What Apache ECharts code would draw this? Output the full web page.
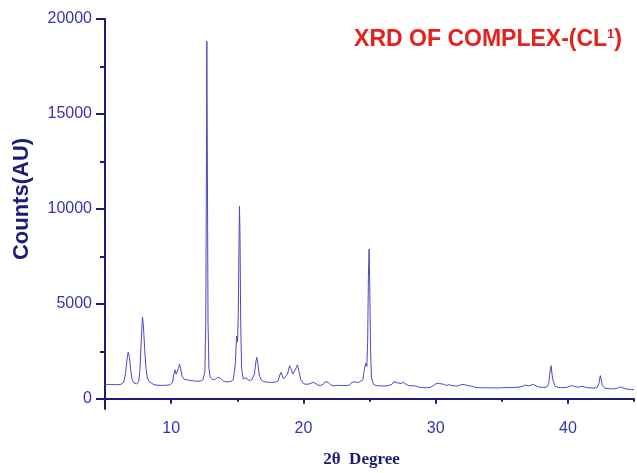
<!DOCTYPE html>
<html>
<head>
<meta charset="utf-8">
<script src="https://cdn.jsdelivr.net/npm/echarts@6/dist/echarts.min.js"></script>
<style>
  html, body { margin: 0; padding: 0; background: #fff; }
  #chart { width: 637px; height: 473px; }
</style>
</head>
<body>
<div id="chart"></div>
<script>
// 2θ (degree) 与计数
const twoTheta = [
  5.0, 5.2, 5.4, 5.6, 5.8, 6.0, 6.2, 6.4, 6.55, 6.65, 6.75, 6.85, 6.95, 7.05, 7.2, 7.4,
  7.55, 7.65, 7.75, 7.83, 7.9, 8.0, 8.1, 8.2, 8.35, 8.5, 8.7, 9.0, 9.3, 9.6, 9.9,
  10.1, 10.2, 10.28, 10.38, 10.48, 10.56, 10.63, 10.72, 10.82, 11.0, 11.2, 11.4, 11.6, 11.8,
  12.0, 12.2, 12.4, 12.55, 12.62, 12.67, 12.70, 12.74, 12.79, 12.86, 12.95, 13.1, 13.3,
  13.5, 13.6, 13.7, 13.9, 14.1, 14.3, 14.5, 14.7, 14.85, 14.95, 15.02, 15.08, 15.13, 15.17,
  15.21, 15.26, 15.33, 15.45, 15.55, 15.65, 15.75, 15.9, 16.1, 16.3, 16.42, 16.48, 16.55,
  16.65, 16.8, 17.0, 17.3, 17.6, 17.9, 18.1, 18.22, 18.3, 18.38, 18.5, 18.65, 18.8, 18.95,
  19.05, 19.2, 19.35, 19.48, 19.55, 19.65, 19.8, 20.0, 20.2, 20.45, 20.6, 20.76, 20.9,
  21.1, 21.3, 21.5, 21.65, 21.77, 21.9, 22.1, 22.3, 22.5, 22.65, 22.8, 23.0, 23.15, 23.3,
  23.5, 23.7, 23.84, 23.95, 24.05, 24.16, 24.3, 24.5, 24.62, 24.72, 24.8, 24.86, 24.92,
  24.97, 25.02, 25.08, 25.15, 25.3, 25.5, 25.8, 26.1, 26.4, 26.7, 26.85, 26.99, 27.1,
  27.25, 27.4, 27.56, 27.7, 27.9, 28.1, 28.3, 28.45, 28.6, 28.8, 29.0, 29.3, 29.6, 29.8,
  30.0, 30.09, 30.2, 30.4, 30.6, 30.8, 31.0, 31.2, 31.4, 31.6, 31.8, 32.0, 32.1, 32.25,
  32.5, 32.8, 33.0, 33.3, 33.6, 33.9, 34.2, 34.5, 34.8, 35.1, 35.4, 35.7, 36.0, 36.3,
  36.6, 36.8, 36.9, 37.05, 37.2, 37.37, 37.5, 37.8, 38.1, 38.4, 38.55, 38.65, 38.73, 38.8,
  38.9, 39.05, 39.3, 39.6, 39.9, 40.1, 40.3, 40.5, 40.8, 41.07, 41.3, 41.6, 41.9, 42.2,
  42.35, 42.45, 42.52, 42.6, 42.8, 43.1, 43.4, 43.7, 43.96, 44.2, 44.5, 44.8, 45.0
];
const counts = [
  760, 750, 745, 750, 740, 745, 760, 850, 1300, 2000, 2450, 2200, 1500, 1000, 820, 780,
  900, 1600, 3200, 4310, 3900, 2600, 1600, 1100, 900, 800, 740, 710, 700, 710, 730,
  850, 1250, 1530, 1300, 1200, 1600, 1830, 1600, 1200, 1020, 1000, 970, 950, 930,
  920, 930, 1000, 1400, 4000, 12000, 18830, 12500, 4000, 1600, 1150, 1020, 1000,
  1120, 1150, 1100, 950, 900, 890, 910, 1000, 1800, 3300, 3000, 4500, 8000, 10140,
  8500, 4000, 1600, 1050, 1000, 1100, 1000, 960, 1000, 1300, 2000, 2175, 1900,
  1300, 1000, 900, 870, 860, 880, 950, 1250, 1390, 1250, 1050, 1000, 1300, 1740,
  1600, 1300, 1270, 1650, 1790, 1500, 1000, 800, 760, 780, 840, 870, 800,
  720, 700, 760, 900, 975, 850, 720, 680, 700, 730, 700, 690, 730, 700,
  720, 880, 960, 880, 820, 850, 780, 1000, 1600, 1880, 1700, 3000, 6500,
  7877, 6000, 2500, 1100, 760, 690, 680, 670, 690, 760, 900, 960, 840,
  750, 800, 870, 780, 700, 680, 690, 700, 650, 600, 590, 580, 600, 680,
  780, 870, 820, 790, 760, 700, 740, 700, 680, 665, 700, 760, 785, 730,
  680, 650, 600, 580, 575, 580, 570, 575, 570, 580, 590, 580, 600, 610,
  660, 720, 750, 680, 700, 750, 680, 620, 600, 610, 800, 1400, 1740, 1300,
  900, 650, 590, 580, 600, 650, 700, 640, 610, 660, 610, 570, 560, 580,
  800, 1220, 1000, 700, 560, 530, 520, 540, 625, 560, 500, 490, 490
];

const xMajorTicks = [10, 20, 30, 40];
const xMinorTicks = [15, 25, 35, 45];
const yMajorTicks = [0, 5000, 10000, 15000, 20000];
const yMinorTicks = [2500, 7500, 12500, 17500];

const navy = '#1c1c78';
const labelBlue = '#3434b4';

const chart = echarts.init(document.getElementById('chart'));

const grid = { left: 105, right: 3, top: 19, bottom: 60 };

const tickLabelStyle = {
  color: labelBlue,
  fontFamily: 'Liberation Sans',
  fontSize: 16,
  formatter: (v) => String(v)
};

chart.setOption({
  animation: false,
  backgroundColor: '#fff',
  grid: grid,
  graphic: [{
    type: 'text',
    right: 15,
    top: 28,
    style: {
      text: '{m|XRD OF COMPLEX-(CL}{s|1}{m|)}',
      rich: {
        m: { fill: '#e4211c', fontFamily: 'Liberation Sans', fontWeight: 'bold', fontSize: 23 },
        s: { fill: '#e4211c', fontFamily: 'Liberation Sans', fontWeight: 'bold', fontSize: 13, verticalAlign: 'top', padding: [0, 0, 9, 0] }
      }
    }
  }],
  xAxis: [{
    type: 'value',
    min: 5,
    max: 45,
    name: '2θ  Degree',
    nameLocation: 'middle',
    nameGap: 42,
    nameTextStyle: {
      color: navy,
      fontFamily: 'Liberation Serif',
      fontWeight: 'bold',
      fontSize: 17,
      padding: [0, 16, 0, 0]
    },
    splitLine: { show: false },
    axisLine: { show: true, lineStyle: { color: navy, width: 2 } },
    axisTick: { show: true, length: 5, customValues: xMajorTicks, lineStyle: { color: navy, width: 2 } },
    axisLabel: { show: true, customValues: xMajorTicks, margin: 12, ...tickLabelStyle }
  }, {
    type: 'value',
    min: 5,
    max: 45,
    position: 'bottom',
    splitLine: { show: false },
    axisLine: { show: false },
    axisTick: { show: true, length: 3, customValues: xMinorTicks, lineStyle: { color: navy, width: 2 } },
    axisLabel: { show: false }
  }],
  yAxis: [{
    type: 'value',
    min: -540,
    max: 20000,
    name: 'Counts(AU)',
    nameLocation: 'middle',
    nameGap: 72,
    nameTextStyle: {
      color: navy,
      fontFamily: 'Liberation Sans',
      fontWeight: 'bold',
      fontSize: 22,
      padding: [0, 0, 0, 30]
    },
    splitLine: { show: false },
    axisLine: { show: true, lineStyle: { color: navy, width: 2 } },
    axisTick: { show: true, length: 9, customValues: yMajorTicks, lineStyle: { color: navy, width: 2 } },
    axisLabel: { show: true, customValues: yMajorTicks, margin: 13, ...tickLabelStyle }
  }, {
    type: 'value',
    min: -540,
    max: 20000,
    position: 'left',
    splitLine: { show: false },
    axisLine: { show: false },
    axisTick: { show: true, length: 5, customValues: yMinorTicks, lineStyle: { color: navy, width: 2 } },
    axisLabel: { show: false }
  }],
  series: [{
    type: 'line',
    xAxisIndex: 0,
    yAxisIndex: 0,
    data: twoTheta.map((t, i) => [t, counts[i]]),
    showSymbol: false,
    lineStyle: { color: '#4a4ac4', width: 1 },
    silent: true
  }]
});
</script>
</body>
</html>
